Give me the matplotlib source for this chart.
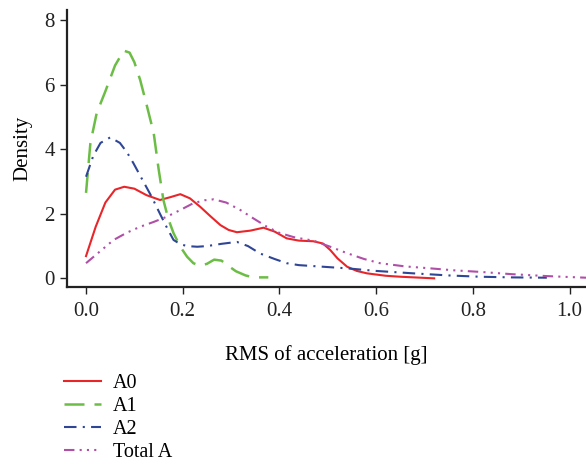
import numpy as np
import matplotlib
matplotlib.use('Agg')
from matplotlib import pyplot as plt

plt.rcParams['font.family'] = ['Liberation Serif', 'DejaVu Serif']

# density curves (x in g, y density)
a0_x = [0.0, 0.02, 0.04, 0.06, 0.079, 0.1, 0.125, 0.153, 0.175, 0.195, 0.215, 0.236, 0.257,
        0.278, 0.295, 0.312, 0.34, 0.367, 0.39, 0.415, 0.44, 0.47, 0.49, 0.505, 0.52, 0.54,
        0.56, 0.581, 0.62, 0.65, 0.72]
a0_y = [0.69, 1.6, 2.35, 2.75, 2.84, 2.78, 2.58, 2.43, 2.52, 2.61, 2.48, 2.22, 1.93,
        1.65, 1.5, 1.43, 1.48, 1.57, 1.45, 1.24, 1.17, 1.15, 1.08, 0.88, 0.62, 0.36,
        0.23, 0.155, 0.08, 0.05, 0.0]

a1_x = [0.0, 0.009, 0.022, 0.04, 0.06, 0.078, 0.09, 0.1, 0.112, 0.125, 0.14, 0.15, 0.16,
        0.17, 0.181, 0.195, 0.209, 0.222, 0.236, 0.25, 0.265, 0.28, 0.295, 0.31, 0.33,
        0.346, 0.377]
a1_y = [2.65, 4.19, 5.12, 5.8, 6.6, 7.06, 7.0, 6.7, 6.15, 5.4, 4.5, 3.4, 2.43,
        1.85, 1.40, 0.98, 0.67, 0.47, 0.39, 0.45, 0.58, 0.55, 0.38, 0.22, 0.09,
        0.03, 0.03]

a2_x = [0.0, 0.015, 0.03, 0.05, 0.07, 0.085, 0.098, 0.115, 0.135, 0.153, 0.168, 0.181,
        0.195, 0.209, 0.23, 0.25, 0.28, 0.312, 0.335, 0.36, 0.39, 0.415, 0.44, 0.47,
        0.54, 0.6, 0.677, 0.75, 0.815, 0.88, 0.953]
a2_y = [3.15, 3.8, 4.2, 4.37, 4.2, 3.9, 3.57, 3.1, 2.55, 2.0, 1.55, 1.19,
        1.06, 1.0, 0.98, 1.0, 1.07, 1.13, 1.0, 0.77, 0.6, 0.47, 0.41, 0.38,
        0.31, 0.23, 0.155, 0.09, 0.05, 0.03, 0.02]

tot_x = [0.0, 0.03, 0.057, 0.085, 0.112, 0.14, 0.167, 0.195, 0.222, 0.245, 0.264, 0.29,
         0.319, 0.345, 0.374, 0.4, 0.429, 0.45, 0.47, 0.505, 0.54, 0.575, 0.608, 0.66,
         0.712, 0.76, 0.815, 0.88, 0.953, 1.034]
tot_y = [0.47, 0.85, 1.19, 1.42, 1.6, 1.75, 1.91, 2.12, 2.33, 2.42, 2.45, 2.35,
         2.12, 1.87, 1.6, 1.41, 1.28, 1.22, 1.17, 0.98, 0.78, 0.6, 0.47, 0.37,
         0.31, 0.25, 0.2, 0.13, 0.07, 0.02]

x_ticks = [0.0, 0.2, 0.4, 0.6, 0.8, 1.0]
y_ticks = [0, 2, 4, 6, 8]

fig = plt.figure(figsize=(5.86, 4.66), dpi=100)
ax = fig.add_axes([0.1138, 0.384, 0.8862, 0.5945])

ax.plot(a0_x, a0_y, color='#e8262a', lw=1.5, label='A0')
ax.plot(a1_x, a1_y, color='#6cbd45', lw=1.8, dashes=(8, 4), label='A1')
ax.plot(a2_x, a2_y, color='#2f4596', lw=1.5, dashes=(6, 3, 1, 3), label='A2')
ax.plot(tot_x, tot_y, color='#b04fa8', lw=1.5, dashes=(5, 2.5, 1, 2.5, 1, 2.5, 1, 2.5), label='Total A')

ax.set_xlim(-0.04, 1.034)
ax.set_ylim(-0.27, 8.32)
ax.set_xticks(x_ticks)
ax.set_xticklabels(['%.1f' % v for v in x_ticks])
ax.set_yticks(y_ticks)

for s in ['top', 'right']:
    ax.spines[s].set_visible(False)
for s in ['left', 'bottom']:
    ax.spines[s].set_linewidth(1.6)
    ax.spines[s].set_color('#222222')
ax.tick_params(direction='out', length=5, width=1, labelsize=15, colors='#222222')
ax.tick_params(axis='x', pad=6)

ax.set_xlabel('RMS of acceleration [g]', fontsize=15, labelpad=17)
ax.set_ylabel('Density', fontsize=15, labelpad=9)

fig.legend(loc='upper left', bbox_to_anchor=(0.095, 0.215), frameon=False,
           fontsize=14.5, handlelength=1.85, handletextpad=0.6, labelspacing=0.2,
           borderaxespad=0)

fig.savefig('out.png', dpi=100)
